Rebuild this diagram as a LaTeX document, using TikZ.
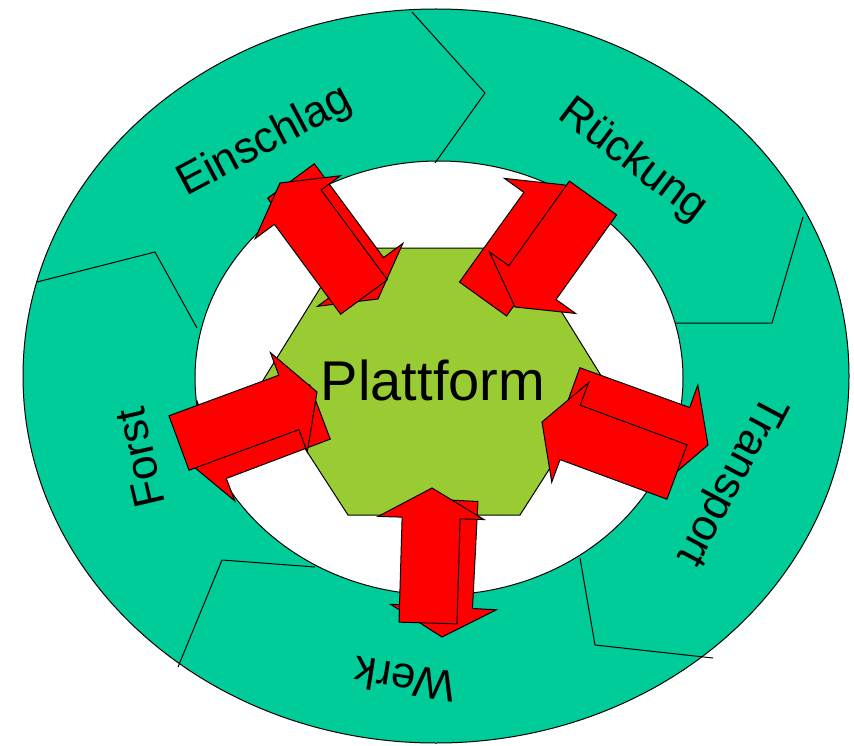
\documentclass[tikz,border=0pt]{standalone}
\usepackage{fontspec}
\setmainfont{Liberation Sans}
\usetikzlibrary{calc}

\definecolor{ring}{RGB}{0,204,153}
\definecolor{hexa}{RGB}{153,204,51}

\begin{document}
\begin{tikzpicture}[x=1pt,y=-1pt,line width=1pt,
    lbl/.style={font=\fontsize{44}{50}\selectfont,inner sep=0pt},
    pfeil/.style={draw=black,fill=red,line join=miter}]

                \useasboundingbox (0,0) rectangle (854,746);

                \filldraw[fill=ring] (436,376) ellipse [x radius=413pt, y radius=367pt];

                \filldraw[fill=white] (439,378) ellipse [x radius=244pt, y radius=217pt];

                % chevron borders of the ring
                \foreach \ax/\ay/\bx/\by/\cx/\cy in {412/12/485/93/435/163, 803/217/772/323/675/323, 713/658/595/645/580/558, 178/667/222/560/315/567, 37/282/155/252/197/328}
                    {
                    \draw (\ax,\ay) -- (\bx,\by) -- (\cx,\cy);
                    }

                \node[lbl,rotate=28] (einschlag) at (265,142) {Einschlag};

                \node[lbl,rotate=-37] (rueckung) at (633,161) {Rückung};

                \node[lbl,rotate=-118] (transport) at (730,480) {Transport};

                \node[lbl,rotate=171] (werk) at (405,680) {Werk};

                \node[lbl,rotate=103] (forst) at (140,458) {Forst};

                \filldraw[fill=hexa] (262,382) -- (345,248) -- (522,248) -- (605,382) -- (520,515) -- (348,515) -- cycle;

                % arrow ends
                \coordinate (ein1) at (291,181);
                \coordinate (ein2) at (378,299);
                \coordinate (ein3) at (364,297);
                \coordinate (ein4) at (280,183);

                \coordinate (rue1) at (483,299);
                \coordinate (rue2) at (565,185);
                \coordinate (rue3) at (593,198);
                \coordinate (rue4) at (515,307);

                \coordinate (tra1) at (570,395);
                \coordinate (tra2) at (708,445);
                \coordinate (tra3) at (677,472);
                \coordinate (tra4) at (542,422);

                \coordinate (wer1) at (449,500);
                \coordinate (wer2) at (442,637);
                \coordinate (wer3) at (428,623);
                \coordinate (wer4) at (432,488);

                \coordinate (for1) at (320,412);
                \coordinate (for2) at (188,462);
                \coordinate (for3) at (179,443);
                \coordinate (for4) at (317,392);

                \foreach \from/\to in {ein1/ein2, ein3/ein4, rue1/rue2, rue3/rue4, tra1/tra2, tra3/tra4, wer1/wer2, wer3/wer4, for1/for2, for3/for4}
                    {
                    \coordinate (h) at ($(\to)!30pt!(\from)$);
                    \filldraw[pfeil] ($(\from)!29pt!90:(\to)$) -- ($(h)!29pt!90:(\to)$) -- ($(h)!53pt!90:(\to)$) -- (\to)
                        -- ($(h)!53pt!-90:(\to)$) -- ($(h)!29pt!-90:(\to)$) -- ($(\from)!29pt!-90:(\to)$) -- cycle;
                    }

                \node[font=\fontsize{56}{60}\selectfont,inner sep=0pt] (plattform) at (433,380) {Plattform};

\end{tikzpicture}
\end{document}
